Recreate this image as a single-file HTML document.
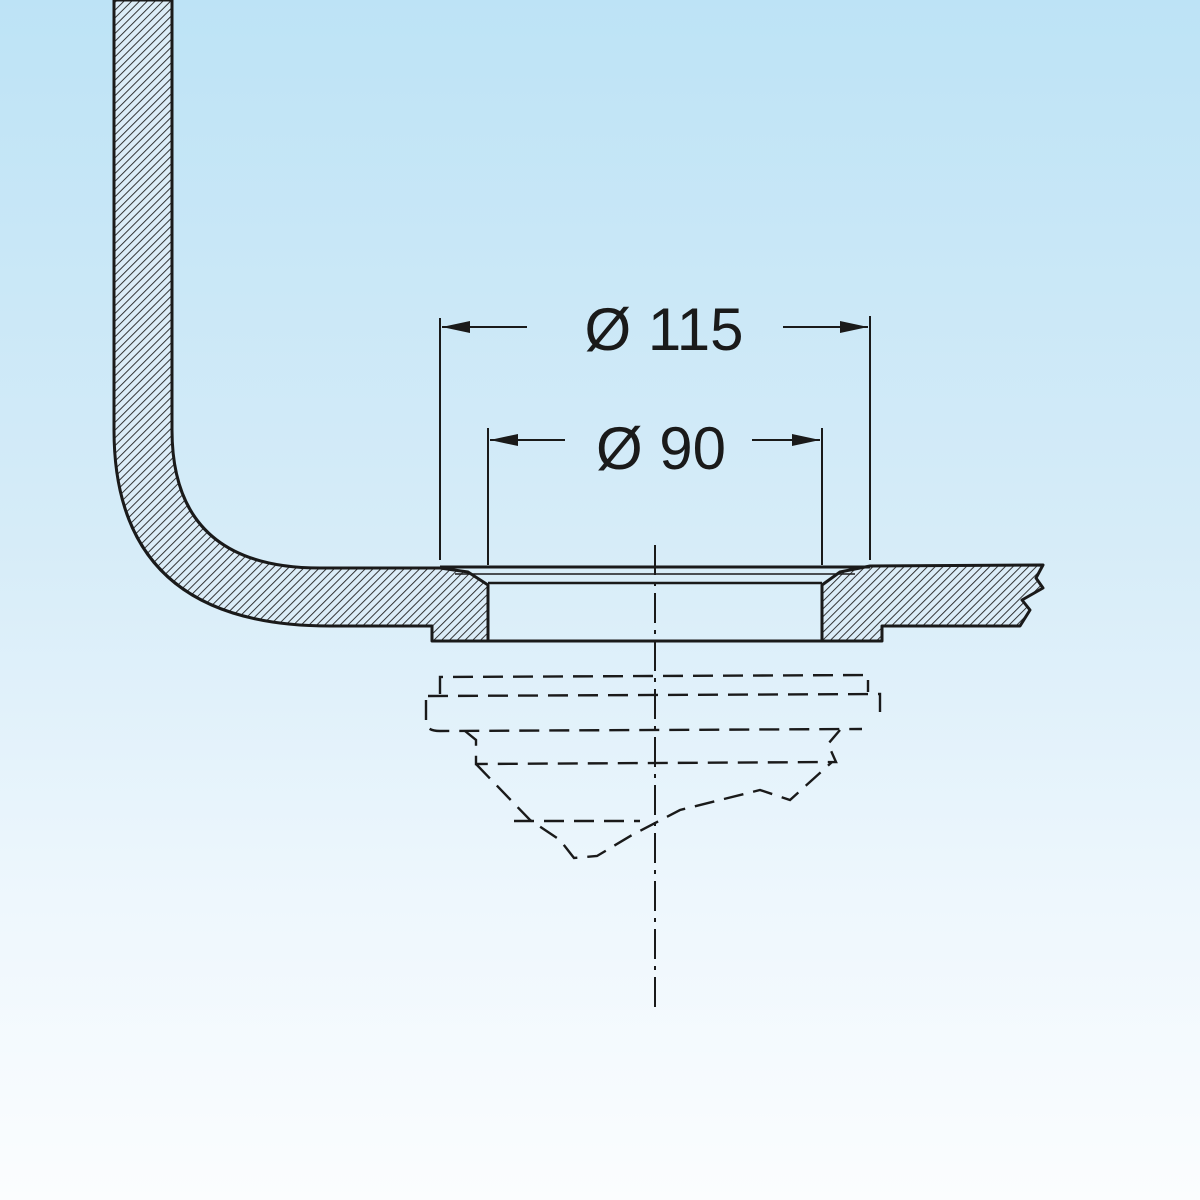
<!DOCTYPE html>
<html><head><style>
html,body{margin:0;padding:0;width:1200px;height:1200px;overflow:hidden}
body{background:linear-gradient(to bottom,#bde3f6 0%,#d6ecf8 45%,#eef7fd 75%,#fbfdfe 100%)}
svg{position:absolute;left:0;top:0}
text{font-family:"Liberation Sans",sans-serif;fill:#1a1a1a}
</style></head><body>
<svg width="1200" height="1200" viewBox="0 0 1200 1200">
<defs>
<pattern id="h" patternUnits="userSpaceOnUse" width="5.5" height="5.5" patternTransform="rotate(45)">
<rect width="6" height="6" fill="#dcedf8"/>
<line x1="0" y1="0" x2="0" y2="6" stroke="#222" stroke-width="1.8"/>
</pattern>
</defs>
<g stroke="#1a1a1a" stroke-width="3" fill="url(#h)" stroke-linejoin="round">
<path d="M114 0 L114 430 Q114 626 330 626 L432 626 L432 641 L488 641 L488 585 L468 572 L440 568 L320 568 Q172 568 172 430 L172 0 Z"/>
<path d="M822 641 L882 641 L882 626 L1020 626 L1030 610 L1022 600 L1043 588 L1036 578 L1043 565 L870 566 L840 572 L822 585 Z"/>
</g>
<g stroke="#1a1a1a" fill="none">
<line x1="488" y1="641" x2="822" y2="641" stroke-width="3"/>
<line x1="488" y1="583" x2="822" y2="583" stroke-width="2.5"/>
<line x1="440" y1="567" x2="870" y2="567" stroke-width="3"/>
<line x1="455" y1="574" x2="855" y2="574" stroke-width="1.5"/>
<g stroke-width="2">
<line x1="440" y1="318" x2="440" y2="560"/>
<line x1="870" y1="316" x2="870" y2="560"/>
<line x1="488" y1="428" x2="488" y2="565"/>
<line x1="822" y1="428" x2="822" y2="565"/>
<line x1="442" y1="327" x2="527" y2="327"/>
<line x1="783" y1="327" x2="868" y2="327"/>
<line x1="490" y1="440" x2="565" y2="440"/>
<line x1="752" y1="440" x2="820" y2="440"/>
</g>
<line x1="655" y1="545" x2="655" y2="1012" stroke-width="2" stroke-dasharray="30,7,4,7"/>
<g stroke-width="2.4" stroke-dasharray="20,10">
<path d="M440 694 L440 677 L868 675 L868 692"/>
<path d="M428 696 L880 694 L880 716"/>
<path d="M426 700 L426 722 Q426 731 440 731 L862 729"/>
<path d="M465 731 L476 740 L476 764 L836 762 L828 744 L840 730"/>
<path d="M476 764 L530 820 L560 840 L574 858 L597 856 L632 835 L680 810 L760 790 L790 800 L832 762"/>
<line x1="514" y1="821" x2="640" y2="821"/>
</g>
<polygon points="442,327 470,321 470,333" fill="#1a1a1a" stroke="none"/>
<polygon points="868,327 840,321 840,333" fill="#1a1a1a" stroke="none"/>
<polygon points="490,440 518,434 518,446" fill="#1a1a1a" stroke="none"/>
<polygon points="820,440 792,434 792,446" fill="#1a1a1a" stroke="none"/>
</g>
<text x="664" y="350" font-size="60" text-anchor="middle">Ø 115</text>
<text x="661" y="469" font-size="60" text-anchor="middle">Ø 90</text>
</svg>
</body></html>
